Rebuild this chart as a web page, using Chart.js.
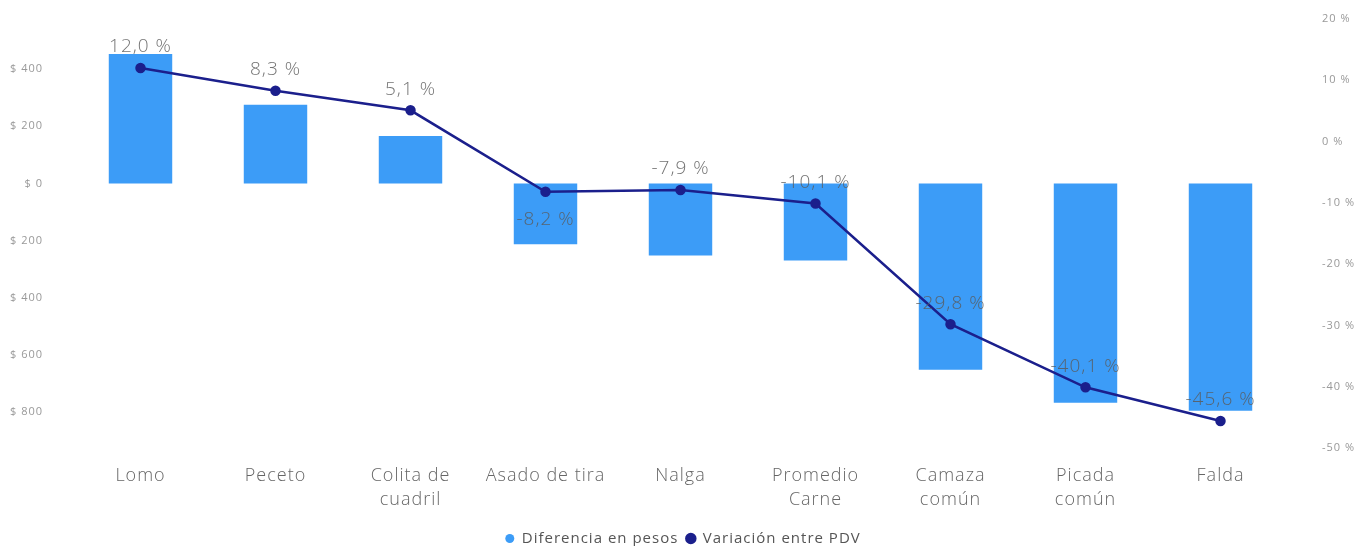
<!DOCTYPE html>
<html>
<head>
<meta charset="utf-8">
<script src="https://cdn.jsdelivr.net/npm/chart.js@4"></script>
<style>
  html, body { margin: 0; padding: 0; background: #fff; }
  #wrap { width: 1366px; height: 546px; }
</style>
</head>
<body>
<div id="wrap"><canvas id="grafico"></canvas></div>
<script>
// DATOS
const categorias = ["Lomo", "Peceto", ["Colita de", "cuadril"], "Asado de tira", "Nalga", ["Promedio", "Carne"], ["Camaza", "común"], ["Picada", "común"], "Falda"];
const diferenciaPesos = [453, 275, 166, -213, -252, -269, -651, -767, -795];
const variacionPDV = [12.0, 8.3, 5.1, -8.2, -7.9, -10.1, -29.8, -40.1, -45.6];
const ticksPesos = [-800, -600, -400, -200, 0, 200, 400];

// etiquetas que van debajo del punto
const etiquetasAbajo = [3];

function formatoPct(v) {
    return v.toFixed(1).replace(".", ",") + " %";
}

// espaciado de letras para todos los textos (se pone antes de medir)
const espaciado = {
    id: "espaciado",
    beforeLayout(chart) {
        chart.ctx.letterSpacing = "1px";
    }
};

// plugin para las etiquetas de la linea
const etiquetasLinea = {
    id: "etiquetasLinea",
    afterDatasetsDraw(chart) {
        const ctx = chart.ctx;
        const meta = chart.getDatasetMeta(1);
        ctx.save();
        ctx.font = "300 19px 'Open Sans'";
        ctx.fillStyle = "rgba(90,90,90,0.85)";
        ctx.textAlign = "center";
        ctx.textBaseline = "middle";
        meta.data.forEach(function (p, i) {
            let y = etiquetasAbajo.includes(i) ? p.y + 28 : p.y - 21;
            ctx.fillText(formatoPct(variacionPDV[i]), p.x, y);
        });
        ctx.restore();
    }
};

// quitar el padding de arriba/abajo que mete ticks.padding en los ejes verticales
function ajusteEjeY(ancho) {
    return function (scale) {
        scale.width = ancho;
        scale.paddingTop = 0;
        scale.paddingBottom = 0;
    };
}

new Chart(document.getElementById("grafico"), {
    data: {
        labels: categorias,
        datasets: [
            {
                type: "bar",
                label: "Diferencia en pesos",
                data: diferenciaPesos,
                backgroundColor: "#3c9cf7",
                yAxisID: "y",
                categoryPercentage: 1,
                barPercentage: 0.47,
                order: 2
            },
            {
                type: "line",
                label: "Variación entre PDV",
                data: variacionPDV,
                borderColor: "#1b1f8c",
                backgroundColor: "#1b1f8c",
                borderWidth: 2.5,
                pointRadius: 4,
                yAxisID: "y1",
                order: 1
            }
        ]
    },
    options: {
        responsive: true,
        maintainAspectRatio: false,
        animation: false,
        layout: { padding: { top: 19, bottom: -10 } },
        plugins: {
            tooltip: { enabled: false },
            legend: {
                position: "bottom",
                labels: {
                    usePointStyle: true,
                    pointStyle: "circle",
                    boxHeight: 6.4,
                    pointStyleWidth: 9,
                    padding: 8,
                    color: "#555",
                    font: { family: "'Open Sans'", size: 15 },
                    sort: (a, b) => a.datasetIndex - b.datasetIndex
                }
            }
        },
        scales: {
            x: {
                grid: { display: false, drawTicks: false },
                border: { display: false },
                ticks: {
                    color: "#666",
                    font: { family: "'Open Sans'", size: 18, weight: 300, lineHeight: 1.32 },
                    padding: 16,
                    maxRotation: 0
                },
                afterFit(scale) { scale.height = 75; }
            },
            y: {
                position: "left",
                min: -925,
                max: 575,
                grid: { display: false, drawTicks: false },
                border: { display: false },
                afterBuildTicks(scale) {
                    scale.ticks = ticksPesos.map(v => ({ value: v }));
                },
                ticks: {
                    color: "#999",
                    font: { family: "'Open Sans'", size: 11 },
                    padding: 30,
                    callback: v => "$ " + Math.abs(v)
                },
                afterFit: ajusteEjeY(73)
            },
            y1: {
                position: "right",
                min: -50,
                max: 20,
                grid: { display: false, drawTicks: false },
                border: { display: false },
                ticks: {
                    stepSize: 10,
                    color: "#999",
                    font: { family: "'Open Sans'", size: 11 },
                    padding: 34,
                    callback: v => v + " %"
                },
                afterFit: ajusteEjeY(78)
            }
        }
    },
    plugins: [espaciado, etiquetasLinea]
});
</script>
</body>
</html>
